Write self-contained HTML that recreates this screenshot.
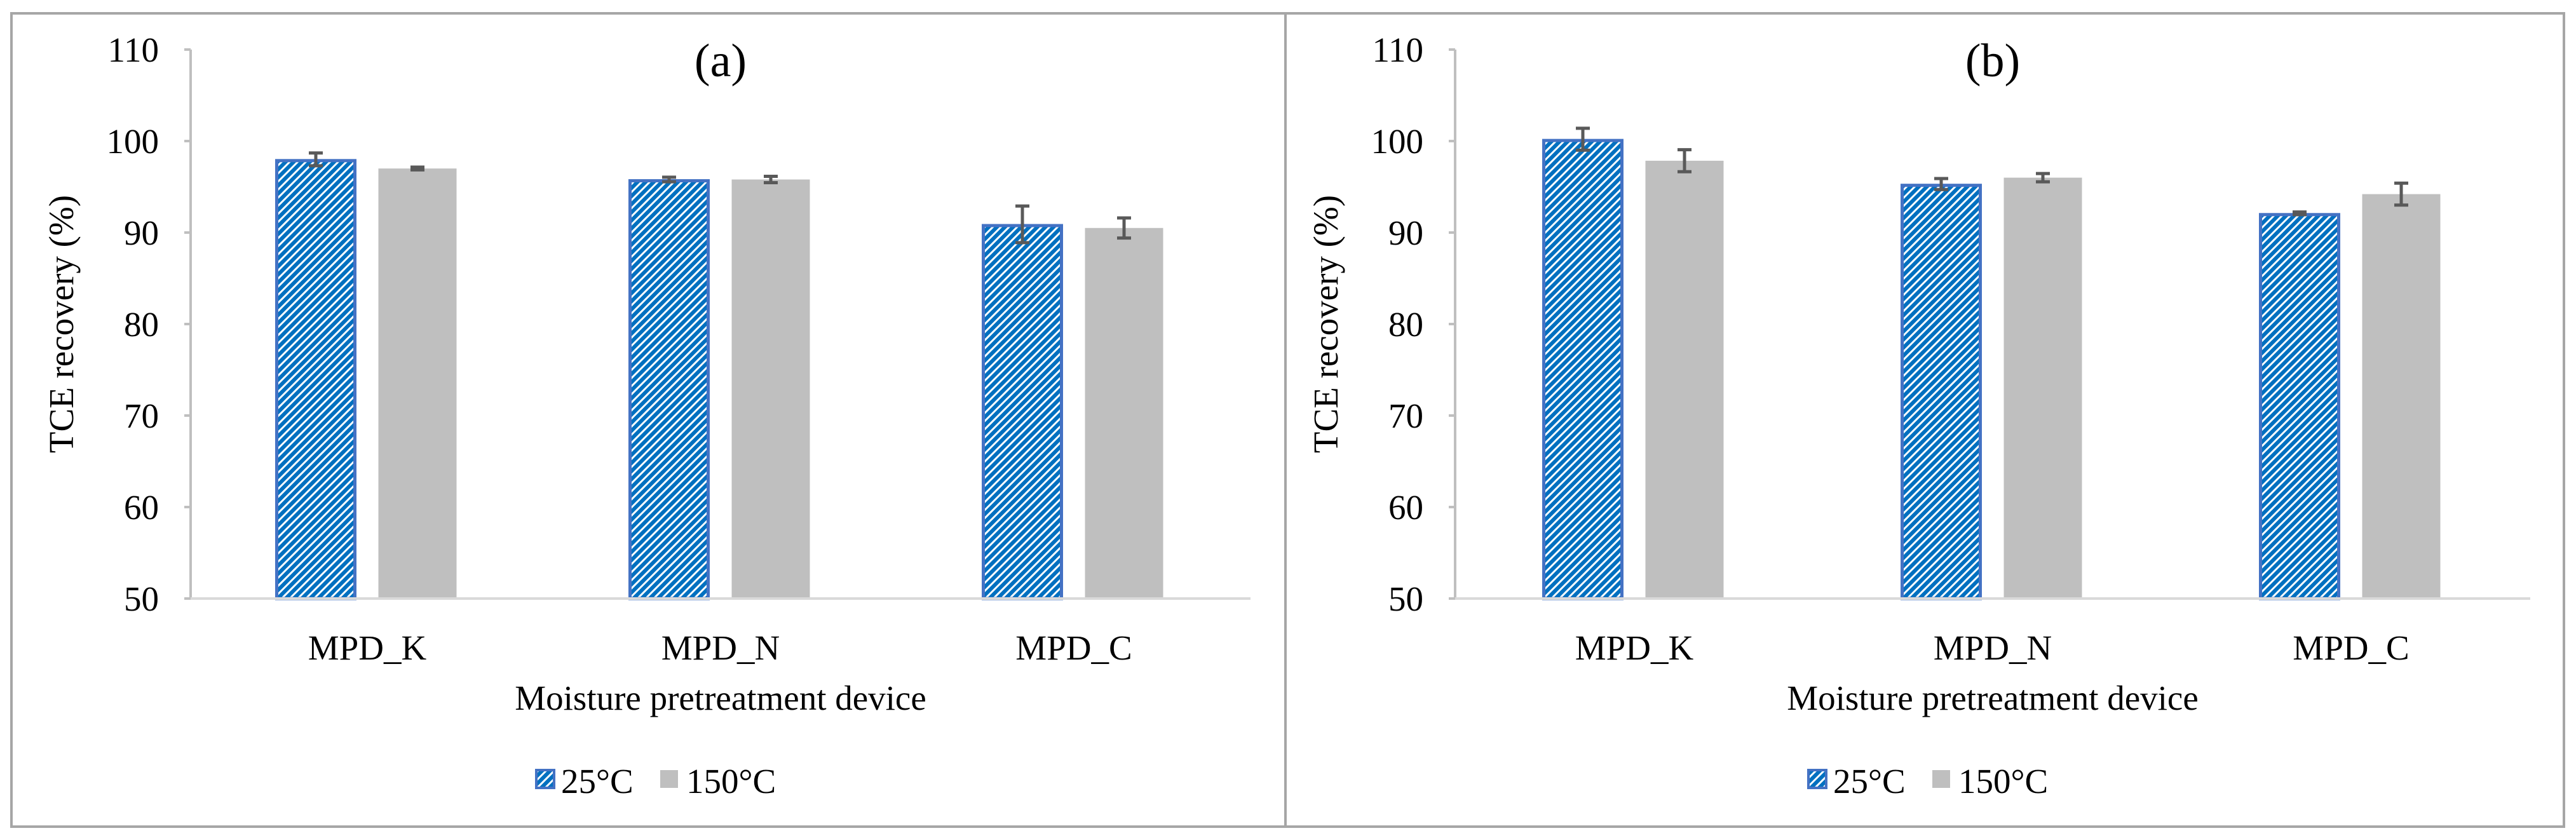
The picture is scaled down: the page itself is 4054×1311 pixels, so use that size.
<!DOCTYPE html>
<html><head><meta charset="utf-8">
<style>
html,body{margin:0;padding:0;background:#fff;}
svg{display:block;}
text{font-family:"Liberation Serif","Times New Roman",serif;fill:#000;}
</style></head>
<body>
<svg id="chart" width="4054" height="1311" viewBox="0 0 4054 1311" xmlns="http://www.w3.org/2000/svg">
<defs>
<pattern id="hatch" patternUnits="userSpaceOnUse" width="9" height="9" patternTransform="rotate(-45)">
<rect width="9" height="9" fill="#ffffff"/>
<rect width="9" height="6" fill="#0070C0"/>
</pattern>
</defs>
<rect x="18" y="21" width="2005" height="1280" fill="#fff" stroke="#A6A6A6" stroke-width="4"/>
<rect x="2023" y="21" width="2012" height="1280" fill="#fff" stroke="#A6A6A6" stroke-width="4"/>
<g id="plots"></g>
</svg>
<script>
const categories = ["MPD_K","MPD_N","MPD_C"];
const seriesNames = ["25°C","150°C"];
const ticks = [50,60,70,80,90,100,110];
const a25 = [98.0, 95.8, 90.9];
const a150 = [97.0, 95.8, 90.5];
const a25err = [0.7, 0.25, 2.0];
const a150err = [0.15, 0.35, 1.1];
const b25 = [100.2, 95.3, 92.1];
const b150 = [97.85, 96.0, 94.2];
const b25err = [1.2, 0.6, 0.15];
const b150err = [1.2, 0.45, 1.2];

const NS="http://www.w3.org/2000/svg";
const root=document.getElementById('plots');
function mk(tag,attrs,parent){const e=document.createElementNS(NS,tag);for(const k in attrs)e.setAttribute(k,attrs[k]);(parent||root).appendChild(e);return e;}

function drawPanel(p, x0, x1, title, s1, s2, e1, e2){
  const yTop=78, yBot=942, vMin=50, vMax=110;
  const y=v=>yBot-(v-vMin)/(vMax-vMin)*(yBot-yTop);
  const cw=(x1-x0)/categories.length;
  const cx=i=>x0+cw*(i+0.5);
  const g=mk('g',{});
  
  
  const ya=mk('line',{x1:x0,y1:yTop,x2:x0,y2:yBot,stroke:'#BFBFBF','stroke-width':4},g);
  
  
  ticks.forEach(t=>{
    const tl=mk('line',{x1:x0-10,y1:y(t),x2:x0,y2:y(t),stroke:'#BFBFBF','stroke-width':4},g);
    
    
    const tx=mk('text',{x:x0-50,y:y(t)+19,'text-anchor':'end','font-size':55},g);
    tx.textContent=t;
    
    
  });
  const bw=127, off=81;
  categories.forEach((c,i)=>{
    const b1=mk('rect',{x:cx(i)-off-bw/2+2,y:y(s1[i])+2,width:bw-4,height:yBot-y(s1[i])-2,fill:'url(#hatch)',stroke:'#4472C4','stroke-width':5},g);
    
    
    const b2=mk('rect',{x:cx(i)+off-bw/2,y:y(s2[i]),width:bw-4,height:yBot-y(s2[i]),fill:'#BFBFBF'},g);
    
    
    [[cx(i)-off,s1[i],e1[i]],[cx(i)+off-2,s2[i],e2[i]]].forEach(([ex,v,e],k)=>{
      const eg=mk('g',{stroke:'#595959','stroke-width':5},g);
      
      
      mk('line',{x1:ex,y1:y(v+e),x2:ex,y2:y(v-e)},eg);
      mk('line',{x1:ex-11,y1:y(v+e),x2:ex+11,y2:y(v+e)},eg);
      mk('line',{x1:ex-11,y1:y(v-e),x2:ex+11,y2:y(v-e)},eg);
    });
    const cl=mk('text',{x:cx(i),y:1038,'text-anchor':'middle','font-size':55},g);
    cl.textContent=c;
    
    
  });
  const xa=mk('line',{x1:x0,y1:yBot,x2:x1,y2:yBot,stroke:'#D9D9D9','stroke-width':4},g);
  
  
  const mid=(x0+x1)/2;
  const tt=mk('text',{x:mid,y:120,'text-anchor':'middle','font-size':74},g);
  tt.textContent=title;
  
  
  const xt=mk('text',{x:mid,y:1117,'text-anchor':'middle','font-size':55},g);
  xt.textContent='Moisture pretreatment device';
  
  
  const ytx=x0-185;
  const yt=mk('text',{x:ytx,y:510,'text-anchor':'middle','font-size':55,transform:'rotate(-90 '+ytx+' 510)'},g);
  yt.textContent='TCE recovery (%)';
  
  
  const lx=mid-292;
  const lg=mk('g',{},g);
  
  
  const l1=mk('rect',{x:lx+2,y:1212,width:28,height:28,fill:'url(#hatch)',stroke:'#4472C4','stroke-width':4},lg);
  
  
  const lt1=mk('text',{x:lx+41,y:1248,'font-size':55},lg);
  lt1.textContent=seriesNames[0];
  
  
  const l2=mk('rect',{x:lx+197,y:1212,width:28,height:28,fill:'#BFBFBF'},lg);
  
  
  const lt2=mk('text',{x:lx+238,y:1248,'font-size':55},lg);
  lt2.textContent=seriesNames[1];
  
  
}
drawPanel('a',300,1968,'(a)',a25,a150,a25err,a150err);
drawPanel('b',2290,3982,'(b)',b25,b150,b25err,b150err);
</script>
</body></html>
